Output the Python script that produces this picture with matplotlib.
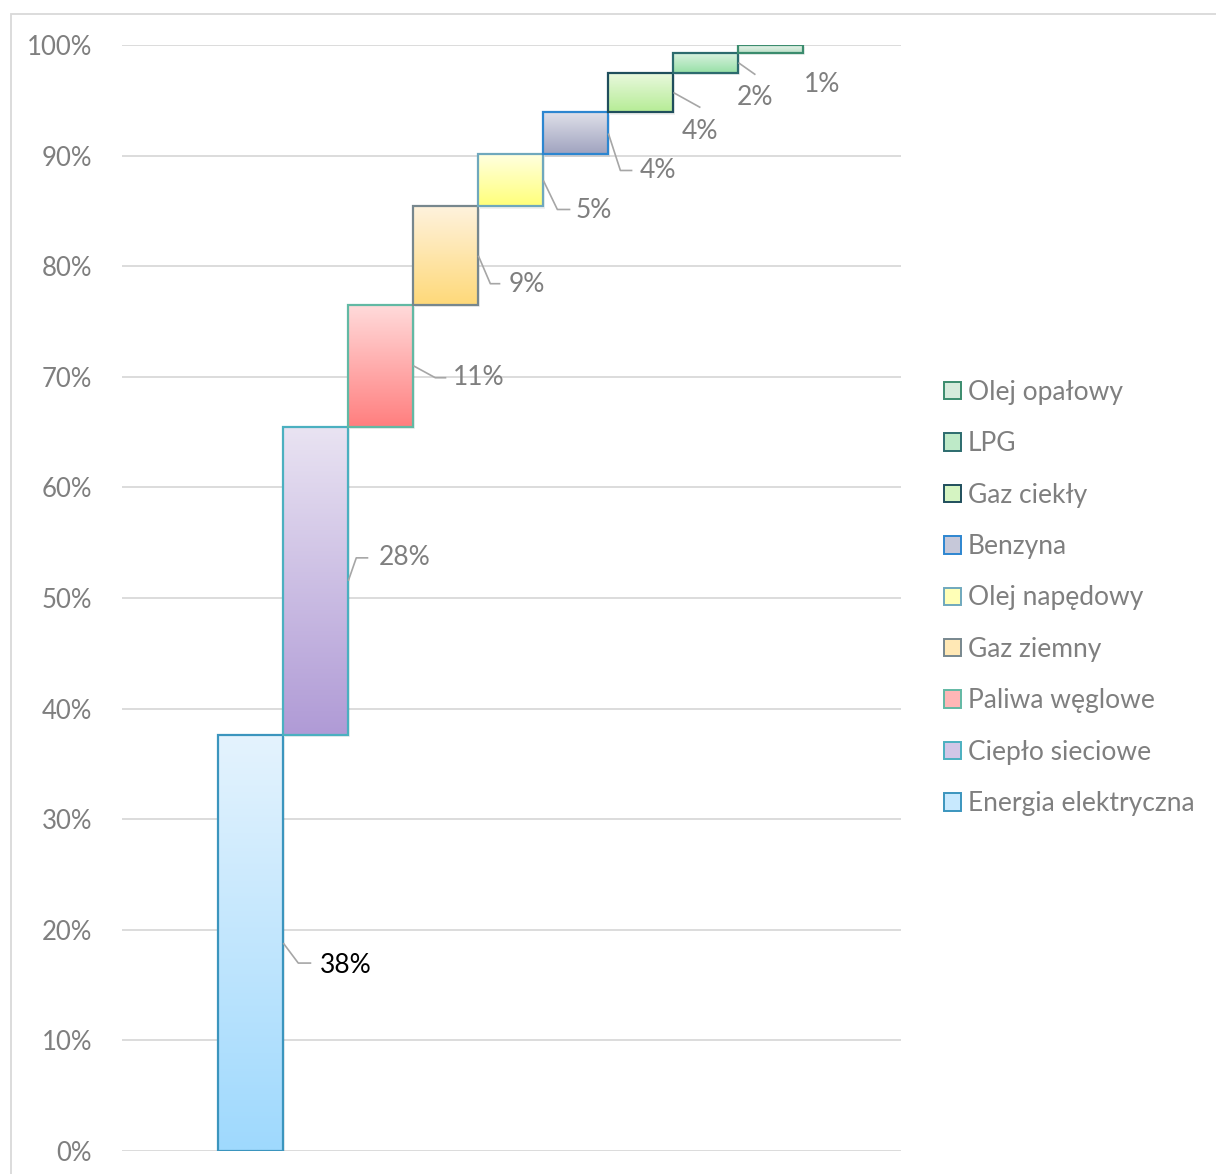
import matplotlib.pyplot as plt
import numpy as np
from matplotlib.colors import to_rgb
from matplotlib.patches import Patch, Rectangle

plt.rcParams['font.family'] = ['Lato', 'DejaVu Sans']

categories = ['Energia elektryczna', 'Ciepło sieciowe', 'Paliwa węglowe', 'Gaz ziemny',
              'Olej napędowy', 'Benzyna', 'Gaz ciekły', 'LPG', 'Olej opałowy']
shares = [37.6, 27.9, 11.0, 8.9, 4.7, 3.8, 3.6, 1.8, 0.7]

# gradient top / bottom and outline for each bar
top_colors = ['#e4f3fe', '#e9e3f2', '#ffdada', '#fff2dc', '#ffffe0',
              '#e0e1ea', '#eaf9df', '#d8f2df', '#e6f3ea']
bottom_colors = ['#9fd9fd', '#b09bd6', '#ff7f7f', '#fed97a', '#ffff7a',
                 '#a0a3bf', '#b6ec96', '#97dfa6', '#bde0c8']
edge_colors = ['#3b95be', '#4bb0c0', '#62b9a4', '#77878e', '#6fa8bd',
               '#2d86d0', '#1f4e5c', '#2c6b6e', '#3b8c6e']

# leader line points (pixel offsets from bar's right edge middle) and label offset
leaders = [[(15, -20), (28, -20)], [(8, 23), (20, 23)], [(22, -12), (33, -12)],
           [(12, -28), (22, -28)], [(14, -29), (27, -29)], [(12, -37), (24, -37)],
           [(27, -15)], [(17, -12)], []]
label_pos = [(37, -22, 'left'), (30, 23, 'left'), (40, -12, 'left'), (30, -29, 'left'),
             (32, -30, 'left'), (31, -37, 'left'), (27, -39, 'center'),
             (17, -35, 'center'), (19, -36, 'center')]
label_colors = ['black'] + ['#7f7f7f'] * 8

grey = '#7f7f7f'
fs = 19
W, H = 1216, 1174
fig = plt.figure(figsize=(W / 100, H / 100), dpi=100)
ax = fig.add_axes([122 / W, 23 / H, 779 / W, 1106 / H])

# outer chart border
fig.patches.append(Rectangle((10.5 / W, -0.1), 1.2, 1.1 - 13.5 / H, transform=fig.transFigure,
                             fill=False, edgecolor='#d9d9d9', linewidth=1.3))

x = np.arange(len(shares))
bottoms = np.concatenate([[0], np.cumsum(shares)[:-1]])
bars = ax.bar(x, shares, width=1.0, bottom=bottoms, facecolor='none',
              edgecolor=edge_colors, linewidth=1.6, zorder=4)

for i, b in enumerate(bars):
    x0, y0, w, h = b.get_x(), b.get_y(), b.get_width(), b.get_height()
    t, btm = np.array(to_rgb(top_colors[i])), np.array(to_rgb(bottom_colors[i]))
    ramp = np.linspace(0, 1, 64)[:, None, None]
    img = t + (btm - t) * ramp
    im = ax.imshow(img, extent=(x0, x0 + w, y0, y0 + h), origin='upper',
                   aspect='auto', interpolation='bilinear', zorder=3)
    im.set_clip_path(b)
    # soft shadow
    ax.add_patch(Rectangle((x0 + 0.03, y0 - 0.2), w, h, facecolor='#000000',
                           alpha=0.06, edgecolor='none', zorder=2))

ax.set_xlim(-1.98, 10.0)
ax.set_ylim(0, 100)
ax.set_yticks(np.arange(0, 101, 10))
ax.set_yticklabels([f'{v}%' for v in range(0, 101, 10)])
ax.set_xticks([])
ax.grid(axis='y', color='#d9d9d9', linewidth=1.3, zorder=0)
ax.set_axisbelow(True)
for s in ax.spines.values():
    s.set_visible(False)
ax.tick_params(axis='y', length=0, pad=21.6, labelsize=18.5, labelcolor=grey)

# labels with leader lines
to_px = ax.transData
from_px = ax.transData.inverted()
for i, b in enumerate(bars):
    ax_x = b.get_x() + b.get_width()
    ax_y = b.get_y() + b.get_height() / 2
    px0 = to_px.transform((ax_x, ax_y))
    if leaders[i]:
        pts = [px0] + [px0 + np.array(p) for p in leaders[i]]
        data_pts = from_px.transform(np.array(pts))
        ax.plot(data_pts[:, 0], data_pts[:, 1], color='#a6a6a6', linewidth=1.2,
                zorder=5, solid_capstyle='butt')
    dx, dy, ha = label_pos[i]
    ax.annotate(f'{shares[i]:.0f}%', (ax_x, ax_y), xytext=(dx, dy),
                textcoords='offset pixels', ha=ha, va='center', fontsize=fs,
                color=label_colors[i], zorder=6, annotation_clip=False)

handles = [Patch(facecolor=tuple((np.array(to_rgb(top_colors[i])) * 0.6 +
                                  np.array(to_rgb(bottom_colors[i])) * 0.4)),
                 edgecolor=edge_colors[i], linewidth=1.4, label=categories[i])
           for i in range(len(categories))][::-1]
fig.legend(handles=handles, loc='center left', bbox_to_anchor=(944 / W, 1 - 598 / H),
           frameon=False, fontsize=fs, labelcolor=grey, handlelength=0.64,
           handleheight=0.64, handletextpad=0.27, labelspacing=1.0, borderaxespad=0,
           borderpad=0)

fig.savefig('out.png', dpi=100, facecolor='white')
